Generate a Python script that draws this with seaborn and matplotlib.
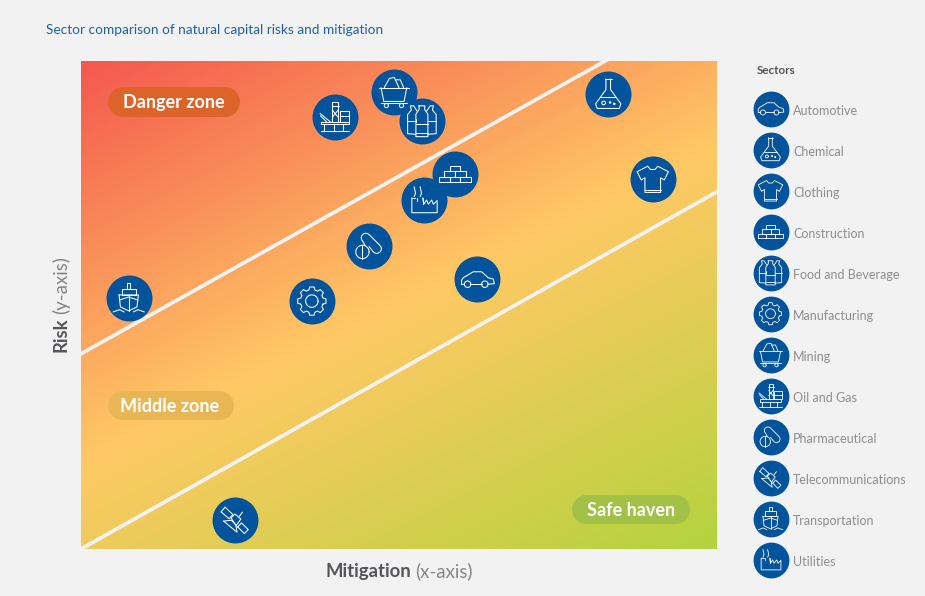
import numpy as np
import pandas as pd
import seaborn as sns
import matplotlib
matplotlib.use("Agg")
import matplotlib.pyplot as plt
from matplotlib.colors import LinearSegmentedColormap
from matplotlib.patches import Polygon
from matplotlib.transforms import Affine2D, IdentityTransform

sectors = ["Automotive", "Chemical", "Clothing", "Construction", "Food and Beverage", "Manufacturing",
           "Mining", "Oil and Gas", "Pharmaceutical", "Telecommunications", "Transportation", "Utilities"]
mitigation = [62.3, 82.9, 89.9, 58.8, 53.6, 36.3, 49.2, 39.9, 45.3, 24.2, 7.5, 53.9]
risk = [55.3, 93.2, 75.8, 76.8, 87.7, 50.8, 93.6, 88.5, 62.1, 5.9, 51.4, 71.5]

upper_x = [0, 100]
upper_y = [40, 112.8]
lower_x = [0, 100]
lower_y = [0, 73.2]

W, H = 925, 596
BLUE = "#01539B"
BG = "#F2F2F2"
FONT = "Lato"

sns.set_theme(style="white")
plt.rcParams["font.family"] = FONT


def arc(cx, cy, r, a0=0, a1=360, n=40):
    a = np.radians(np.linspace(a0, a1, n))
    return list(zip(cx + r * np.cos(a), cy + r * np.sin(a)))


def rect(x0, y0, x1, y1):
    return [(x0, y0), (x1, y0), (x1, y1), (x0, y1), (x0, y0)]


def gear():
    pts = []
    for i in range(8):
        c = i * 45
        for a, r in [(c - 15, 0.5), (c - 9, 0.62), (c + 9, 0.62), (c + 15, 0.5)]:
            pts.append((r * np.cos(np.radians(a)), r * np.sin(np.radians(a))))
    pts.append(pts[0])
    return [pts, arc(0, 0, 0.27)]


icons = {
    "Automotive": [[(-0.68, -0.23), (-0.68, -0.05), (-0.61, 0.06), (-0.17, 0.32), (0.19, 0.32), (0.48, 0.06),
                    (0.7, 0.0), (0.74, -0.2), (0.47, -0.22)],
                   [(0.19, -0.22), (-0.28, -0.22)], [(-0.56, -0.22), (-0.68, -0.23)],
                   arc(-0.42, -0.22, 0.14), arc(0.33, -0.22, 0.14)],
    "Chemical": [[(-0.16, 0.66), (0.16, 0.66)],
                 [(-0.1, 0.66), (-0.1, 0.2), (-0.55, -0.42), (-0.48, -0.62), (0.48, -0.62), (0.55, -0.42), (0.1, 0.2), (0.1, 0.66)],
                 [(-0.34, -0.12), (0.34, -0.12)], arc(-0.2, -0.38, 0.08), arc(0.08, -0.36, 0.03), arc(0.26, -0.42, 0.03)],
    "Clothing": [[(-0.22, 0.56), (-0.68, 0.32), (-0.5, -0.04), (-0.34, 0.06), (-0.34, -0.58), (0.34, -0.58),
                  (0.34, 0.06), (0.5, -0.04), (0.68, 0.32), (0.22, 0.56), (0.1, 0.42), (-0.1, 0.42), (-0.22, 0.56)],
                 [(-0.34, -0.47), (0.34, -0.47)]],
    "Construction": [rect(-0.7, -0.36, -0.23, -0.12), rect(-0.23, -0.36, 0.23, -0.12), rect(0.23, -0.36, 0.7, -0.12),
                     rect(-0.46, -0.12, 0, 0.12), rect(0, -0.12, 0.46, 0.12), rect(-0.23, 0.12, 0.23, 0.36)],
    "Food and Beverage": [[(-0.13, 0.66), (0.13, 0.66), (0.12, 0.5), (0.26, 0.3), (0.26, -0.68), (-0.26, -0.68), (-0.26, 0.3), (-0.12, 0.5), (-0.13, 0.66)],
                          [(-0.26, 0.08), (-0.26, -0.05)], [(-0.26, -0.12), (0.26, -0.12)], [(-0.26, -0.5), (0.26, -0.5)],
                          [(-0.2, 0.42), (-0.36, 0.66), (-0.5, 0.66), (-0.46, 0.48), (-0.62, 0.28), (-0.62, -0.55), (-0.26, -0.58)],
                          [(0.2, 0.42), (0.36, 0.66), (0.5, 0.66), (0.46, 0.48), (0.62, 0.28), (0.62, -0.55), (0.26, -0.58)],
                          [(-0.62, 0.0), (-0.26, 0.0)], [(0.62, 0.0), (0.26, 0.0)]],
    "Manufacturing": gear(),
    "Mining": [[(-0.66, 0.2), (0.66, 0.2)], [(-0.56, 0.2), (-0.44, -0.4), (0.44, -0.4), (0.56, 0.2)],
               [(-0.56, -0.48), (0.56, -0.48)], arc(-0.33, -0.58, 0.09), arc(0.33, -0.58, 0.09),
               [(-0.42, 0.2), (-0.2, 0.6), (0.02, 0.64), (0.22, 0.2)], [(0.06, 0.54), (0.28, 0.54), (0.42, 0.2)]],
    "Oil and Gas": [[(-0.62, -0.62), (0.64, -0.62)], rect(-0.6, -0.32, 0.6, -0.2), [(-0.45, -0.32), (-0.45, -0.62)],
                    [(0.35, -0.32), (0.35, -0.62)], [(-0.05, -0.32), (-0.05, -0.62)],
                    rect(-0.1, -0.2, 0.14, 0.66), [(-0.1, 0.3), (0.14, 0.0)], [(0.14, 0.3), (-0.1, 0.0)],
                    [(-0.14, 0.5), (0.18, 0.5)], rect(0.22, -0.2, 0.62, 0.28), [(0.22, 0.04), (0.62, 0.04)],
                    [(-0.64, 0.16), (-0.2, -0.2)], [(-0.62, 0.06), (-0.36, -0.2)]],
    "Pharmaceutical": [arc(-0.29, -0.26, 0.29), [(-0.29, 0.03), (-0.29, -0.55)],
                       arc(-0.14, 0.35, 0.2, 225, 45, 20) + arc(0.33, -0.12, 0.2, 45, -135, 20) + [(0.0, -0.03)],
                       [(-0.28, 0.21), (-0.18, 0.03)]],
    "Telecommunications": [[(-0.6, 0.36), (-0.43, 0.57), (-0.09, 0.25), (-0.25, 0.06), (-0.6, 0.36)],
                           [(0.12, -0.29), (0.29, -0.12), (0.58, -0.41), (0.41, -0.58), (0.12, -0.29)],
                           [(-0.17, 0.1), (0.0, 0.27), (0.26, 0.05), (0.05, -0.24), (-0.17, 0.1)],
                           [(0.19, 0.17), (0.33, 0.35)],
                           [(-0.49, -0.04), (-0.15, 0.0), (0.04, -0.2), (0.09, -0.52), (-0.49, -0.04)]],
    "Transportation": [rect(-0.07, 0.42, 0.07, 0.66), rect(-0.3, 0.14, 0.3, 0.42),
                       [(-0.42, 0.14), (0.42, 0.14), (0.36, -0.38), (0, -0.55), (-0.36, -0.38), (-0.42, 0.14)],
                       [(0, 0.14), (0, -0.55)], [(-0.4, -0.08), (0, 0.05), (0.4, -0.08)],
                       [(-0.68, -0.6), (-0.4, -0.5), (-0.2, -0.6)], [(0.2, -0.6), (0.4, -0.5), (0.68, -0.6)]],
    "Utilities": [[(-0.52, 0.1), (-0.52, -0.55), (0.58, -0.55), (0.58, -0.02), (0.42, -0.18), (0.34, 0.0), (0.2, -0.18),
                   (0.12, 0.0), (0, -0.18), (-0.05, 0.1)],
                  [(-0.05, 0.1), (-0.05, -0.18)], [(-0.3, 0.1), (-0.3, -0.02)], [(-0.52, 0.1), (-0.38, 0.1)],
                  [(-0.42, 0.58), (-0.36, 0.3), (-0.42, 0.15)], [(-0.16, 0.58), (-0.1, 0.3), (-0.16, 0.15)]],
}


def draw_icon(ax, name, x, y, r, lw):
    cx, cy = ax.transData.transform((x, y))
    tr = Affine2D().scale(r).translate(cx, cy)
    for poly in icons[name]:
        px, py = zip(*poly)
        ax.plot(px, py, transform=tr, color="white", lw=lw, zorder=5, solid_joinstyle="round", clip_on=False)


def pill(x0, y0, x1, y1, color):
    r = (y1 - y0) / 2
    cy = H - (y0 + y1) / 2
    pts = arc(x1 - r, cy, r, -90, 90, 20) + arc(x0 + r, cy, r, 90, 270, 20)
    fig.add_artist(Polygon(pts, closed=True, transform=IdentityTransform(), fc=color, ec="none", zorder=6))


def label(x, y, s, **kw):
    fig.text(x / W, 1 - y / H, s, zorder=7, **kw)


fig = plt.figure(figsize=(W / 100, H / 100), dpi=100, facecolor=BG)
ax = fig.add_axes([81 / W, 1 - 549 / H, 636 / W, 488 / H])
ax.set_xlim(0, 100)
ax.set_ylim(0, 100)

# background gradient runs at right angles to the zone lines
gx, gy = np.meshgrid(np.linspace(0, 636, 318), np.linspace(0, 488, 244))
grad = (gx * 0.447 + gy * 0.894) / 720
cmap = LinearSegmentedColormap.from_list("zones", ["#F4584F", "#FFC965", "#B4D33E"])
ax.imshow(grad, cmap=cmap, vmin=0, vmax=1, extent=(0, 100, 0, 100), aspect="auto", zorder=0)

sns.lineplot(x=upper_x, y=upper_y, color=BG, lw=2.7, ax=ax, zorder=2, errorbar=None)
sns.lineplot(x=lower_x, y=lower_y, color=BG, lw=2.7, ax=ax, zorder=2, errorbar=None)

df = pd.DataFrame({"sector": sectors, "mitigation": mitigation, "risk": risk})
sns.scatterplot(data=df, x="mitigation", y="risk", color=BLUE, s=1095, linewidth=0, ax=ax, zorder=3, legend=False)

ax.set_xlim(0, 100)
ax.set_ylim(0, 100)
ax.set_xticks([])
ax.set_yticks([])
ax.set_xlabel("")
ax.set_ylabel("")
sns.despine(ax=ax, left=True, bottom=True)

for s, mx, my in zip(sectors, mitigation, risk):
    draw_icon(ax, s, mx, my, 23, 0.75)

# sector key
lax = fig.add_axes([752 / W, 1 - 580.5 / H, 173 / W, 492.5 / H])
key = pd.DataFrame({"x": [18.5] * len(sectors), "rank": list(range(len(sectors)))})
sns.scatterplot(data=key, x="x", y="rank", color=BLUE, s=665, linewidth=0, ax=lax, zorder=3, legend=False, clip_on=False)
lax.set_xlim(0, 173)
lax.set_ylim(11.5, -0.5)
lax.axis("off")
for i, s in enumerate(sectors):
    draw_icon(lax, s, 18.5, i, 18, 0.6)
    lax.text(41, i + 0.05, s, color="#8E8E8E", fontsize=9.0, va="center", ha="left")

pill(108, 87, 240, 117, "#DC642B")
pill(108, 391, 234, 420, "#E8B655")
pill(572, 495, 690, 524, "#A2C147")
label(174, 103, "Danger zone", color="white", fontsize=13, fontweight="bold", ha="center", va="center")
label(170, 406.5, "Middle zone", color="white", fontsize=13, fontweight="bold", ha="center", va="center")
label(631, 510.5, "Safe haven", color="white", fontsize=13, fontweight="bold", ha="center", va="center")

label(46, 30.5, "Sector comparison of natural capital risks and mitigation", color="#1D62A6", fontsize=9.77, ha="left", va="center")
label(757, 70.5, "Sectors", color="#55565A", fontsize=8.4, fontweight="bold", ha="left", va="center")

label(411, 571.5, "Mitigation", color="#54565A", fontsize=13.3, fontweight="bold", ha="right", va="center")
label(415, 571.5, "(x-axis)", color="#858585", fontsize=13.4, ha="left", va="center")
label(61, 352, "Risk", color="#54565A", fontsize=13.3, fontweight="bold", rotation=90, ha="center", va="bottom")
label(61, 314, "(y-axis)", color="#858585", fontsize=13.4, rotation=90, ha="center", va="bottom")

fig.savefig("out.png", dpi=100, facecolor=BG)
